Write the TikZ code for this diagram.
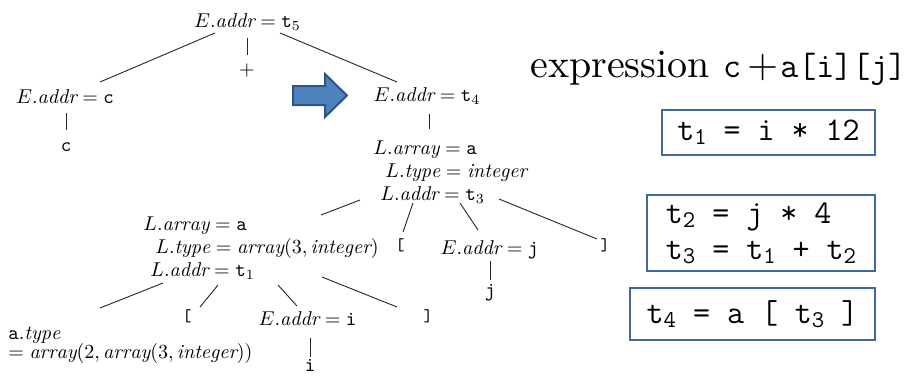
\documentclass[tikz,border=0pt]{standalone}
\usepackage{fontspec}
\newfontfamily\hdfont{lmroman10-regular}[Extension=.otf]
\usetikzlibrary{calc}
\definecolor{boxblue}{HTML}{41699B}
\definecolor{arrfill}{HTML}{4F81BD}
\definecolor{arrline}{HTML}{2F5586}
\newcommand{\sbx}[1]{\raisebox{-2pt}{\fontsize{12}{12}\selectfont #1}}
\newcommand{\tbr}[1]{\raisebox{1.8pt}{\fontsize{8.5}{9}\selectfont\ttfamily #1}}
\newcommand{\tightlines}{\fontsize{10}{9.5}\selectfont\lineskiplimit=-10pt\relax}
\begin{document}
\begin{tikzpicture}[x=0.5pt,y=-0.5pt,
  lab/.style={inner sep=0pt, anchor=base, font=\fontsize{10}{12}\selectfont},
  blk/.style={inner sep=0pt, anchor=north west, align=left, font=\fontsize{10}{11.5}\selectfont},
  tline/.style={line width=0.45pt, draw=black!85},
  codebox/.style={draw=boxblue, line width=0.9pt, inner sep=0pt, align=left,
    font=\fontsize{16.5}{18}\selectfont\ttfamily},
  arrowshape/.style={fill=arrfill, draw=arrline, line width=1pt, line join=miter}]
\fill[white] (0,0) rectangle (904,377);
\useasboundingbox (0,0) rectangle (904,377);

% tree nodes
\node[lab] (T)   at (247.5,27) {$E.\mathit{addr} = \mathtt{t}_5$};
\node[lab] (P)   at (247,75)   {$+$};
\node[lab] (Ec)  at (65,103)   {$E.\mathit{addr} = \mathtt{c}$};
\node[lab] (cc)  at (66,151)   {\texttt{c}};
\node[lab] (Et4) at (427,101)  {$E.\mathit{addr} = \mathtt{t}_4$};
\node[blk] (R)   at (373,140)  {$L.\mathit{array} = \mathtt{a}$\\
  \hspace*{6pt}$L.\mathit{type} = \mathit{integer}$\\
  \hspace*{3.5pt}$L.\mathit{addr} = \mathtt{t}_3$};
\node[blk] (Lb)  at (143,216)  {$L.\mathit{array} = \mathtt{a}$\\
  \hspace*{6pt}$L.\mathit{type} = \mathit{array}(3, \mathit{integer})$\\
  \hspace*{3.5pt}$L.\mathit{addr} = \mathtt{t}_1$};
\node[lab] (lbA) at (400,254)  {\tbr{[}};
\node[lab] (Ej)  at (489.5,254) {$E.\mathit{addr} = \mathtt{j}$};
\node[lab] (rbA) at (605,254)  {\tbr{]}};
\node[lab] (jj)  at (490,296)  {\texttt{j}};
\node[blk, font=\tightlines] (at) at (8,327)
  {$\mathtt{a}.\mathit{type}$\\ $= \mathit{array}(2, \mathit{array}(3, \mathit{integer}))$};
\node[lab] (lbB) at (187,325)  {\tbr{[}};
\node[lab] (Ei)  at (307.5,325) {$E.\mathit{addr} = \mathtt{i}$};
\node[lab] (rbB) at (428,325)  {\tbr{]}};
\node[lab] (ii)  at (310,371)  {\texttt{i}};

% tree connectors
\draw[tline] ([shift={(-32.5,6)}]T.base) -- ([shift={(35,-21)}]Ec.base);
\draw[tline] ([shift={(-0.5,11)}]T.base) -- ([shift={(0,-20)}]P.base);
\draw[tline] ([shift={(32.5,6)}]T.base) -- ([shift={(-30,-19)}]Et4.base);
\draw[tline] ([shift={(1,10)}]Ec.base) -- ([shift={(0,-21)}]cc.base);
\draw[tline] ([shift={(2,13)}]Et4.base) -- ([shift={(56,-11)}]R.north west);
\draw[tline] ([shift={(-13,60)}]R.north west) -- ([shift={(178,-1)}]Lb.north west);
\draw[tline] ([shift={(40,63)}]R.north west) -- ([shift={(3,-22)}]lbA.base);
\draw[tline] ([shift={(87,63)}]R.north west) -- ([shift={(-11.5,-24)}]Ej.base);
\draw[tline] ([shift={(126,59)}]R.north west) -- ([shift={(-8,-15)}]rbA.base);
\draw[tline] ([shift={(0.5,7)}]Ej.base) -- ([shift={(0,-16)}]jj.base);
\draw[tline] ([shift={(20,67)}]Lb.north west) -- ([shift={(92,-19)}]at.north west);
\draw[tline] ([shift={(75,69)}]Lb.north west) -- ([shift={(13,-18)}]lbB.base);
\draw[tline] ([shift={(135,69)}]Lb.north west) -- ([shift={(-10.5,-19)}]Ei.base);
\draw[tline] ([shift={(179,61)}]Lb.north west) -- ([shift={(-31,-18)}]rbB.base);
\draw[tline] ([shift={(2.5,13)}]Ei.base) -- ([shift={(0,-14)}]ii.base);

% block arrow
\draw[arrowshape] (293,86) -- (325,86) -- (325,74) -- (347,95.5) -- (325,117)
  -- (325,105) -- (293,105) -- cycle;

% heading
\node[inner sep=0pt, anchor=base west, font=\fontsize{20}{24}\selectfont\hdfont] (hd)
  at (530,77) {expression {\fontsize{17.5}{20}\selectfont\ttfamily c}\hspace{3pt}+\hspace{1pt}{\fontsize{17.5}{20}\selectfont\ttfamily a[i][j]}};

% code boxes
\node[codebox, minimum width=106.5pt, minimum height=22.5pt] (bx1) at (768.5,132.5)
  {t\sbx{1} = i * 12};
\node[codebox, minimum width=114pt, minimum height=38pt] (bx2) at (761,233)
  {t\sbx{2} = j * 4\\ t\sbx{3} = t\sbx{1} + t\sbx{2}};
\node[codebox, minimum width=122.5pt, minimum height=26pt] (bx3) at (752.5,314)
  {t\sbx{4} = a [ t\sbx{3} ]};
\end{tikzpicture}
\end{document}
